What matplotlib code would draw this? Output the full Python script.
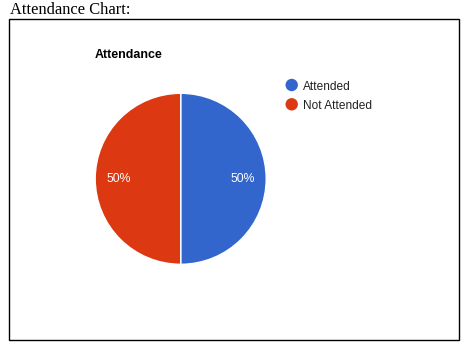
import matplotlib
matplotlib.use("Agg")
import matplotlib.pyplot as plt
from matplotlib.patches import Rectangle, Ellipse

categories = ["Attended", "Not Attended"]
values = [50, 50]
colors = ["#3366cc", "#dc3912"]
title = "Attendance"
page_heading = "Attendance Chart:"

W, H = 473, 356
fig = plt.figure(figsize=(W / 100, H / 100), dpi=100)
fig.patch.set_facecolor("white")

def fx(x):
    return x / W

def fy(y):
    return 1 - y / H

# page heading
fig.text(fx(9.5), fy(14), page_heading, family="Liberation Serif", fontsize=11.9,
         color="black", va="baseline", ha="left")

# chart box
fig.patches.append(Rectangle((fx(8.5), fy(339.5)), fx(459 - 8.5), (339.5 - 18.5) / H,
                             transform=fig.transFigure, fill=False,
                             edgecolor="black", linewidth=1.0))

# title
fig.text(fx(95), fy(58), title, family="Liberation Sans", fontsize=8.9,
         fontweight="bold", color="#000000", va="baseline", ha="left")

# pie
cx, cy, r = 180.7, 178.8, 85.5
ax = fig.add_axes([fx(cx - r), fy(cy + r), 2 * r / W, 2 * r / H])
wedges, texts, autotexts = ax.pie(
    values, colors=colors, startangle=90, counterclock=False,
    autopct="%1.0f%%", pctdistance=0.72,
    wedgeprops=dict(edgecolor="white", linewidth=1.0),
    textprops=dict(family="Liberation Sans", fontsize=8.8, color="white"),
)
ax.set_xlim(-1, 1)
ax.set_ylim(-1, 1)
ax.set_aspect("equal")
ax.axis("off")

# legend
lx, ly0, dy = 291.7, 85.0, 19.3
cr = 6.2
for i, (cat, col) in enumerate(zip(categories, colors)):
    y = ly0 + i * dy
    fig.patches.append(Ellipse((fx(lx), fy(y)), width=2 * cr / W, height=2 * cr / H,
                               transform=fig.transFigure, facecolor=col,
                               edgecolor="none"))
    fig.text(fx(303), fy(y), cat, family="Liberation Sans", fontsize=8.6,
             color="#222222", va="center_baseline", ha="left")

fig.savefig("out.png", dpi=100, facecolor="white")
